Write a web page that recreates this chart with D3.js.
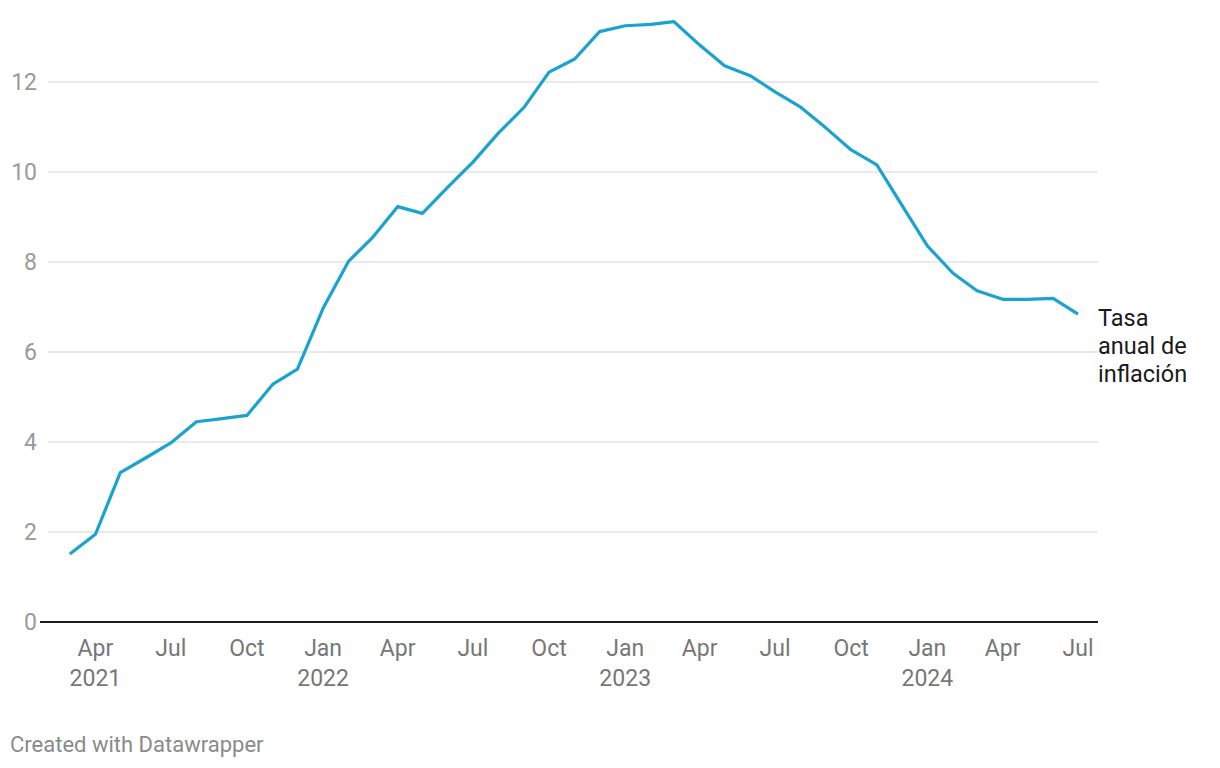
<!DOCTYPE html>
<html><head><meta charset="utf-8">
<script src="https://cdn.jsdelivr.net/npm/d3@7"></script>
<style>
html,body{margin:0;padding:0;background:#fff;}
text{font-family:Roboto,"Noto Sans",sans-serif;}
</style></head>
<body>
<svg id="chart" width="1220" height="768"></svg>
<script>
const months = ["2021-03","2021-04","2021-05","2021-06","2021-07","2021-08","2021-09","2021-10","2021-11","2021-12",
"2022-01","2022-02","2022-03","2022-04","2022-05","2022-06","2022-07","2022-08","2022-09","2022-10","2022-11","2022-12",
"2023-01","2023-02","2023-03","2023-04","2023-05","2023-06","2023-07","2023-08","2023-09","2023-10","2023-11","2023-12",
"2024-01","2024-02","2024-03","2024-04","2024-05","2024-06","2024-07"];
const inflation = [1.51,1.95,3.32,3.65,3.98,4.45,4.52,4.59,5.28,5.62,
6.97,8.02,8.53,9.23,9.08,9.67,10.22,10.87,11.44,12.22,12.51,13.12,
13.25,13.28,13.34,12.82,12.36,12.14,11.78,11.44,10.97,10.49,10.16,9.27,
8.36,7.75,7.36,7.17,7.17,7.19,6.84];
const yTicks = [0,2,4,6,8,10,12];
const xTickDates = ["2021-04","2021-07","2021-10","2022-01","2022-04","2022-07","2022-10","2023-01","2023-04","2023-07","2023-10","2024-01","2024-04","2024-07"];
const xTickMonth = ["Apr","Jul","Oct","Jan","Apr","Jul","Oct","Jan","Apr","Jul","Oct","Jan","Apr","Jul"];
const xTickYear  = ["2021","","","2022","","","","2023","","","","2024","",""];
const seriesLabel = ["Tasa","anual de","inflación"];
const footer = "Created with Datawrapper";

const parse = d3.timeParse("%Y-%m");
const data = months.map((m,i)=>({date:parse(m), value:inflation[i]}));

const svg = d3.select("#chart");
const x = d3.scaleTime().domain([parse("2021-03"), parse("2024-07")]).range([69.8, 1078]);
const y = d3.scaleLinear().domain([0,12]).range([622, 82]);

// gridlines
svg.append("g").selectAll("line").data(yTicks.filter(d=>d>0)).join("line")
  .attr("x1",48).attr("x2",1098)
  .attr("y1",d=>y(d)).attr("y2",d=>y(d))
  .attr("stroke","#e3e3e3").attr("stroke-width",1.5);

// y labels
svg.append("g").selectAll("text").data(yTicks).join("text")
  .attr("x",37).attr("y",d=>y(d)).attr("dy","0.36em")
  .attr("text-anchor","end").attr("font-size",23).attr("fill","#9a9a9a")
  .text(d=>d);

// baseline
svg.append("line").attr("x1",40).attr("x2",1098).attr("y1",y(0)).attr("y2",y(0))
  .attr("stroke","#1d1d1d").attr("stroke-width",2);

// x labels
const xg = svg.append("g");
xTickDates.forEach((d,i)=>{
  const t = xg.append("text").attr("x",x(parse(d))).attr("y",656)
    .attr("text-anchor","middle").attr("font-size",23).attr("fill","#777");
  t.append("tspan").attr("x",x(parse(d))).text(xTickMonth[i]);
  if (xTickYear[i]) t.append("tspan").attr("x",x(parse(d))).attr("dy",30).text(xTickYear[i]);
});

// line
svg.append("path").datum(data)
  .attr("d", d3.line().x(d=>x(d.date)).y(d=>y(d.value)))
  .attr("fill","none").attr("stroke","#1aa3cf").attr("stroke-width",3.2)
  .attr("stroke-linejoin","round").attr("stroke-linecap","butt");

// series label
const lab = svg.append("text").attr("x",1098).attr("y",326).attr("font-size",23.5).attr("fill","#1a1a1a");
seriesLabel.forEach((s,i)=>lab.append("tspan").attr("x",1098).attr("dy",i?28:0).text(s));

// footer
svg.append("text").attr("x",10).attr("y",752).attr("font-size",22).attr("fill","#8a8a8a").text(footer);
</script>
</body></html>
